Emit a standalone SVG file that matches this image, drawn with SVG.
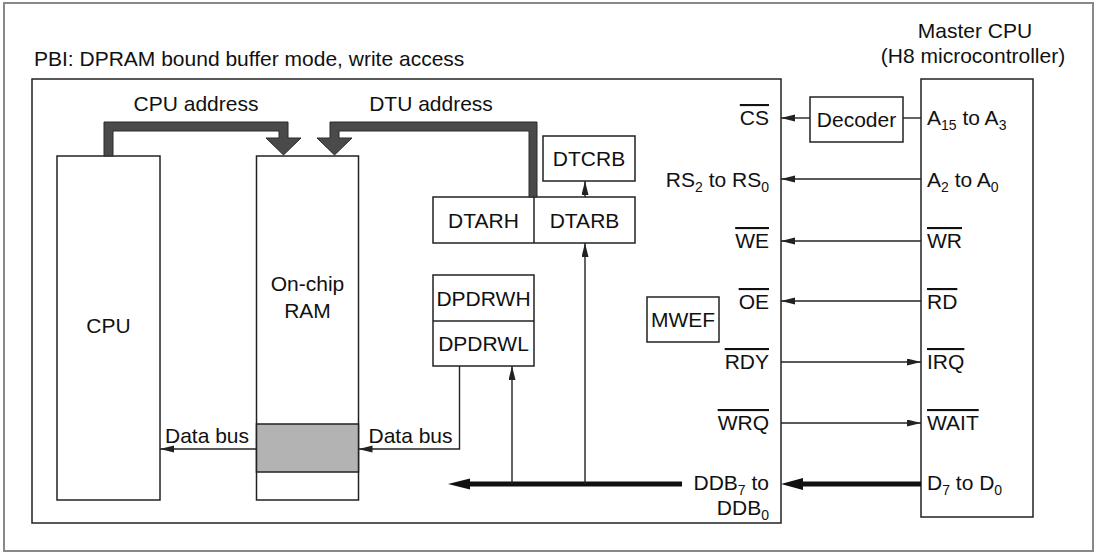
<svg xmlns="http://www.w3.org/2000/svg" width="1100" height="553" viewBox="0 0 1100 553">
<style>
.box{fill:#fff;stroke:#222;stroke-width:1.5}
.t{font-family:"Liberation Sans",Arial,Helvetica,sans-serif;font-size:21px;fill:#111}
.c{text-anchor:middle}
.e{text-anchor:end}
.ov{text-decoration:overline}
.ln{stroke:#222;stroke-width:1.4;fill:none}
.bus{stroke:#111;stroke-width:5;fill:none}
.abus{fill:#4a4a4a;stroke:#2a2a2a;stroke-width:1}
.sub{font-size:14px}
</style>
<defs>
<marker id="arr" markerUnits="userSpaceOnUse" markerWidth="14" markerHeight="8" refX="14" refY="3.5" orient="auto">
<path d="M0,0 L14,3.5 L0,7 z" fill="#222"/>
</marker>
</defs>
<rect x="4" y="3" width="1089" height="548" fill="#fff" stroke="#888" stroke-width="2"/>
<text class="t" x="34" y="66">PBI: DPRAM bound buffer mode, write access</text>

<g id="pbi">
<rect class="box" x="32" y="79" width="749" height="444"/>
<text class="t e" x="769" y="125"><tspan class="ov">CS</tspan></text>
<text class="t e" x="769" y="187">RS<tspan class="sub" dy="5">2</tspan><tspan dy="-5"> to RS</tspan><tspan class="sub" dy="5">0</tspan></text>
<text class="t e ov" x="769" y="248">WE</text>
<text class="t e ov" x="769" y="309">OE</text>
<text class="t e ov" x="769" y="369">RDY</text>
<text class="t e ov" x="769" y="430">WRQ</text>
<text class="t e" x="769" y="490">DDB<tspan class="sub" dy="5">7</tspan><tspan dy="-5"> to</tspan></text>
<text class="t e" x="769" y="515">DDB<tspan class="sub" dy="5">0</tspan></text>
</g>

<g id="master-cpu">
<text class="t c" x="975" y="38">Master CPU</text>
<text class="t c" x="973" y="63">(H8 microcontroller)</text>
<rect class="box" x="921" y="79" width="112" height="438"/>
<text class="t" x="927" y="125">A<tspan class="sub" dy="5">15</tspan><tspan dy="-5"> to A</tspan><tspan class="sub" dy="5">3</tspan></text>
<text class="t" x="927" y="187">A<tspan class="sub" dy="5">2</tspan><tspan dy="-5"> to A</tspan><tspan class="sub" dy="5">0</tspan></text>
<text class="t ov" x="927" y="248">WR</text>
<text class="t ov" x="927" y="309">RD</text>
<text class="t ov" x="927" y="369">IRQ</text>
<text class="t ov" x="927" y="430">WAIT</text>
<text class="t" x="927" y="490">D<tspan class="sub" dy="5">7</tspan><tspan dy="-5"> to D</tspan><tspan class="sub" dy="5">0</tspan></text>
</g>

<g id="cpu">
<rect class="box" x="57" y="156" width="103" height="344"/>
<text class="t c" x="108.5" y="333">CPU</text>
</g>

<g id="onchip-ram">
<rect class="box" x="256.5" y="156" width="102" height="344"/>
<rect x="256.5" y="424" width="102" height="48" fill="#b3b3b3" stroke="#222" stroke-width="1.5"/>
<text class="t c" x="307.5" y="291">On-chip</text>
<text class="t c" x="307.5" y="318">RAM</text>
</g>

<g id="dtcrb">
<rect class="box" x="543" y="136" width="92" height="45"/>
<text class="t c" x="589" y="166">DTCRB</text>
</g>

<g id="dtar">
<rect class="box" x="433" y="197" width="202" height="46"/>
<line x1="534" y1="197" x2="534" y2="243" stroke="#222" stroke-width="1.5"/>
<text class="t c" x="483.5" y="228">DTARH</text>
<text class="t c" x="584.5" y="228">DTARB</text>
</g>

<g id="dpdrw">
<rect class="box" x="433" y="275" width="101" height="91"/>
<line x1="433" y1="321" x2="534" y2="321" stroke="#222" stroke-width="1.5"/>
<text class="t c" x="483.5" y="306">DPDRWH</text>
<text class="t c" x="483.5" y="351">DPDRWL</text>
</g>

<g id="mwef">
<rect class="box" x="647" y="297" width="72" height="45"/>
<text class="t c" x="683" y="327">MWEF</text>
</g>

<g id="decoder">
<rect class="box" x="810" y="97" width="93" height="45"/>
<text class="t c" x="856.5" y="127">Decoder</text>
</g>

<g id="connectors">
<path class="abus" d="M104,156 L104,122 L288,122 L288,138 L301,138 L283.5,155 L266,138 L279,138 L279,131 L113,131 L113,156 Z"/>
<path class="abus" d="M537,197 L537,122 L330,122 L330,138 L317,138 L334.5,155 L352,138 L339,138 L339,131 L529,131 L529,197 Z"/>
<text class="t c" x="196" y="111">CPU address</text>
<text class="t c" x="431" y="111">DTU address</text>
<line class="ln" x1="585" y1="197" x2="585" y2="181" marker-end="url(#arr)"/>
<line class="ln" x1="810" y1="118" x2="781" y2="118" marker-end="url(#arr)"/>
<line class="ln" x1="903" y1="118" x2="921" y2="118"/>
<line class="ln" x1="921" y1="179" x2="781" y2="179" marker-end="url(#arr)"/>
<line class="ln" x1="921" y1="241" x2="781" y2="241" marker-end="url(#arr)"/>
<line class="ln" x1="921" y1="301" x2="781" y2="301" marker-end="url(#arr)"/>
<line class="ln" x1="781" y1="362" x2="921" y2="362" marker-end="url(#arr)"/>
<line class="ln" x1="781" y1="423" x2="921" y2="423" marker-end="url(#arr)"/>
<line class="bus" x1="921" y1="484" x2="800" y2="484"/>
<path d="M781,484 L803,478 L803,490 Z" fill="#111"/>
<line class="bus" x1="682" y1="484" x2="466" y2="484"/>
<path d="M448,484 L470,478.5 L470,489.5 Z" fill="#111"/>
<line class="ln" x1="512" y1="484" x2="512" y2="366" marker-end="url(#arr)"/>
<line class="ln" x1="585" y1="484" x2="585" y2="243" marker-end="url(#arr)"/>
<polyline class="ln" points="459.5,366 459.5,449 358.5,449" marker-end="url(#arr)"/>
<line class="ln" x1="256.5" y1="449" x2="160" y2="449" marker-end="url(#arr)"/>
<text class="t c" x="207" y="443">Data bus</text>
<text class="t c" x="410.5" y="443">Data bus</text>
</g>
</svg>
